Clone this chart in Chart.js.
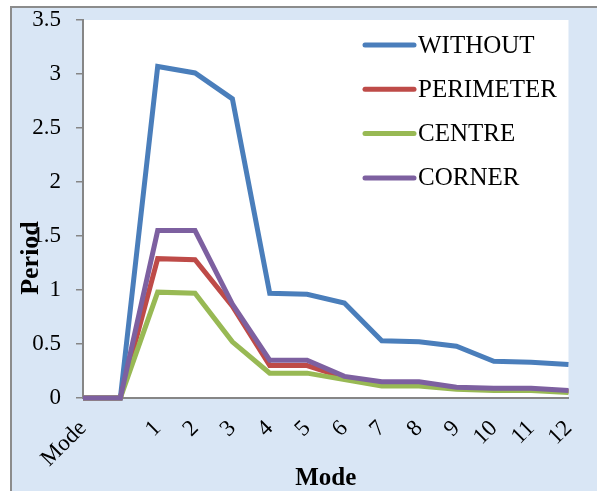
<!DOCTYPE html>
<html>
<head>
<meta charset="utf-8">
<script src="https://cdn.jsdelivr.net/npm/chart.js@4/dist/chart.umd.min.js"></script>
<style>
    html, body { margin: 0; padding: 0; background: #fff; }
    #wrap { width: 597px; height: 491px; position: relative; }
</style>
</head>
<body>
<div id="wrap"><canvas id="modeChart"></canvas></div>
<script>
const modes     = ['Mode', '', '1', '2', '3', '4', '5', '6', '7', '8', '9', '10', '11', '12'];
const without   = [0, 0, 3.07, 3.01, 2.77, 0.97, 0.96, 0.88, 0.53, 0.52, 0.48, 0.34, 0.33, 0.31];
const perimeter = [0, 0, 1.29, 1.28, 0.85, 0.30, 0.30, 0.19, 0.13, 0.13, 0.09, 0.08, 0.08, 0.06];
const centre    = [0, 0, 0.98, 0.97, 0.52, 0.23, 0.23, 0.17, 0.11, 0.11, 0.08, 0.07, 0.07, 0.05];
const corner    = [0, 0, 1.55, 1.55, 0.87, 0.35, 0.35, 0.20, 0.15, 0.15, 0.10, 0.09, 0.09, 0.07];

const SERIF = "'Liberation Serif', 'Times New Roman', serif";

// frame, light blue panel and white plot area
const panelBg = {
    id: 'panelBg',
    beforeDraw(chart) {
        const { ctx, chartArea: a } = chart;
        ctx.save();
        ctx.fillStyle = '#ffffff';
        ctx.fillRect(0, 0, chart.width, chart.height);
        ctx.fillStyle = '#d9e6f5';
        ctx.fillRect(11, 7, chart.width - 11, chart.height - 7);
        ctx.strokeStyle = '#8c8c8c';
        ctx.lineWidth = 2;
        ctx.strokeRect(11, 7, chart.width + 10, chart.height + 10);
        ctx.fillStyle = '#ffffff';
        ctx.fillRect(a.left, a.top, a.right - a.left, a.bottom - a.top);
        ctx.restore();
    },
};

// legend drawn inside the plot, top right
const insideLegend = {
    id: 'insideLegend',
    afterDatasetsDraw(chart) {
        const { ctx } = chart;
        ctx.save();
        ctx.font = '25px ' + SERIF;
        ctx.textBaseline = 'middle';
        chart.data.datasets.forEach((ds, i) => {
            const y = 45 + i * 44.3;
            ctx.strokeStyle = ds.borderColor;
            ctx.lineWidth = 5;
            ctx.lineCap = 'round';
            ctx.beginPath();
            ctx.moveTo(365, y);
            ctx.lineTo(414, y);
            ctx.stroke();
            ctx.fillStyle = '#000';
            ctx.fillText(ds.label, 418, y + 1);
        });
        ctx.restore();
    },
};

// y title sits low, over the 1.5 label, like the original
const periodTitle = {
    id: 'periodTitle',
    afterDraw(chart) {
        const { ctx } = chart;
        ctx.save();
        ctx.translate(31, 258);
        ctx.rotate(-Math.PI / 2);
        ctx.font = 'bold 26px ' + SERIF;
        ctx.fillStyle = '#000';
        ctx.textAlign = 'center';
        ctx.textBaseline = 'middle';
        ctx.fillText('Period', 0, 0);
        ctx.restore();
    },
};

const line = (label, data, color, order) => ({
    label, data, order,
    borderColor: color,
    backgroundColor: color,
    borderWidth: 5,
    pointRadius: 0,
    tension: 0,
    fill: false,
    clip: false,
});

new Chart(document.getElementById('modeChart'), {
    type: 'line',
    data: {
        labels: modes,
        datasets: [
            line('WITHOUT', without, '#4a7ebb', 3),
            line('PERIMETER', perimeter, '#be4b48', 2),
            line('CENTRE', centre, '#98b954', 1),
            line('CORNER', corner, '#7d60a0', 0),
        ],
    },
    options: {
        responsive: true,
        maintainAspectRatio: false,
        animation: false,
        layout: { padding: { left: 10, top: 20, right: 27, bottom: 0 } },
        plugins: {
            legend: { display: false },
            tooltip: { enabled: false },
        },
        scales: {
            x: {
                offset: false,
                grid: { display: false },
                border: { color: '#868686', width: 2 },
                ticks: {
                    color: '#000',
                    font: { family: SERIF, size: 23 },
                    minRotation: 45,
                    maxRotation: 45,
                    padding: 9,
                    autoSkip: false,
                },
                title: {
                    display: true,
                    text: 'Mode',
                    color: '#000',
                    font: { family: SERIF, size: 25, weight: 'bold', lineHeight: 1 },
                    padding: { top: 0, bottom: 0 },
                },
                afterFit: s => { s.height = 93; },
            },
            y: {
                min: 0,
                max: 3.5,
                grid: { drawOnChartArea: false, tickLength: 7, color: '#868686', lineWidth: 1.5 },
                border: { color: '#868686', width: 2 },
                ticks: {
                    stepSize: 0.5,
                    color: '#000',
                    font: { family: SERIF, size: 23 },
                    padding: 15,
                    callback: v => String(Math.round(v * 10) / 10),
                },
                afterFit: s => { s.width = 73; s.paddingTop = 0; s.paddingBottom = 0; },
            },
        },
    },
    plugins: [panelBg, insideLegend, periodTitle],
});
</script>
</body>
</html>
